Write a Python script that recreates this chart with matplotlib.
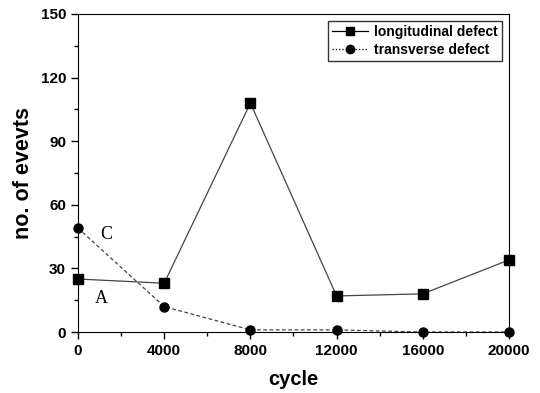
import matplotlib
matplotlib.use("Agg")
import matplotlib.pyplot as plt
from matplotlib.ticker import MultipleLocator

plt.rcParams["font.family"] = ["Liberation Sans", "DejaVu Sans"]

cycles = [0, 4000, 8000, 12000, 16000, 20000]
longitudinal = [25, 23, 108, 17, 18, 34]
transverse = [49, 12, 1, 1, 0, 0]

fig = plt.figure(figsize=(5.4, 3.93), dpi=100)
ax = fig.add_axes([0.1444, 0.1552, 0.7982, 0.8092])

ax.plot(cycles, longitudinal, "-", color="#444444", lw=0.9, zorder=2)
ax.plot(cycles, transverse, "--", color="#444444", lw=0.9, dashes=(3, 2), zorder=2)
ax.plot(cycles, longitudinal, "s", color="black", ms=6.5, clip_on=False, zorder=3)
ax.plot(cycles, transverse, "o", color="black", ms=6.5, clip_on=False, zorder=3)

# legend proxies
lg1, = ax.plot([], [], "-s", color="black", lw=0.9, ms=6, label="longitudinal defect")
lg2, = ax.plot([], [], ":o", color="black", lw=0.9, ms=6, label="transverse defect")

ax.text(1300, 46, "C", family="Liberation Serif", fontsize=13, va="center", ha="center")
ax.text(1100, 16, "A", family="Liberation Serif", fontsize=13, va="center", ha="center")

ax.set_xlim(0, 20000)
ax.set_ylim(0, 150)
ax.xaxis.set_major_locator(MultipleLocator(4000))
ax.xaxis.set_minor_locator(MultipleLocator(2000))
ax.yaxis.set_major_locator(MultipleLocator(30))
ax.yaxis.set_minor_locator(MultipleLocator(15))
ax.tick_params(which="both", direction="out", top=False, right=False)
ax.tick_params(which="major", length=5, width=1, labelsize=11)
ax.tick_params(which="minor", length=3, width=1)
for lab in ax.get_xticklabels() + ax.get_yticklabels():
    lab.set_fontweight("bold")

ax.set_xlabel("cycle", fontsize=14.5, fontweight="bold", labelpad=9)
ax.set_ylabel("no. of evevts", fontsize=15.5, fontweight="bold", labelpad=5)

leg = ax.legend(handles=[lg1, lg2], loc="upper right", bbox_to_anchor=(0.999, 1.0),
                frameon=True, fancybox=False, edgecolor="black",
                prop={"weight": "bold", "size": 10}, handlelength=2.6,
                handletextpad=0.4, borderpad=0.3, labelspacing=0.3)
leg.get_frame().set_linewidth(1)

fig.savefig("out.png", dpi=100)
